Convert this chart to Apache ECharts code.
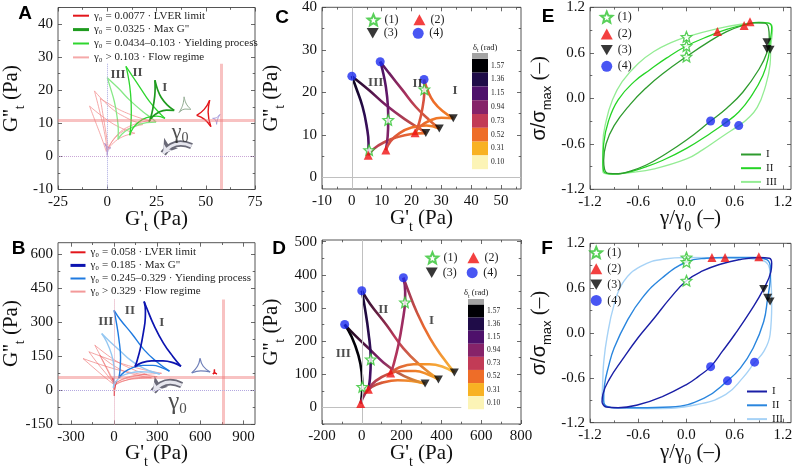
<!DOCTYPE html>
<html><head><meta charset="utf-8">
<script src="https://cdn.jsdelivr.net/npm/echarts@6/dist/echarts.min.js"></script>
<style>html,body{margin:0;padding:0;background:#fff}#c{width:800px;height:467px}</style>
</head><body><div id="c"></div><script>
// ================= DATA =================
// axis ranges [min, max] and major tick labels
const aX=[-25,75], aY=[-10,45], aXt=[-25,0,25,50,75], aYt=[-10,0,10,20,30,40];
const bX=[-390,980], bY=[-150,650], bXt=[-300,0,300,600,900], bYt=[-150,0,150,300,450,600];
const cX=[-10,56.7], cY=[-2.75,40], cXt=[-10,0,10,20,30,40,50], cYt=[0,10,20,30,40];
const dX=[-200,800], dY=[-50,505], dXt=[-200,0,200,400,600,800], dYt=[0,100,200,300,400,500];
const eX=[-1.2,1.3], eY=[-1.2,1.2], eXt=[-1.2,-0.6,0,0.6,1.2], eYt=[-1.2,-0.6,0,0.6,1.2];
const fX=[-1.2,1.3], fY=[-1.2,1.2], fXt=[-1.2,-0.6,0,0.6,1.2], fYt=[-1.2,-0.6,0,0.6,1.2];

// colour-bar tick labels (delta_t, rad)
const deltaTicks=[1.57,1.36,1.15,0.94,0.73,0.52,0.31,0.10];

// ---- Panels A / C : transient moduli loops (Pa), edges (1)->(2), (2)->(3), (3)->(4)
const cI_left   =[[24.2,23],[24.3,20.7],[24.1,18.2],[23.1,14.3],[22.0,11.6],[21.2,10.5]];
const cI_bottom =[[21.2,10.5],[23,12.0],[26,13.3],[30,14.0],[34,13.9]];
const cI_right  =[[34,13.9],[30.4,15.6],[27.4,17.8],[25.5,20.3],[24.2,23]];
const cII_left  =[[9.5,27.2],[10.3,25.2],[11.4,21.3],[12.1,16.6],[12.2,13.5],[12.0,9.6],[11.4,6.4]];
const cII_bottom=[[11.4,6.4],[13,8.5],[16,10.4],[20,11.7],[25,12.2],[29.3,11.5]];
const cII_right =[[29.3,11.5],[25.9,13.5],[21.4,16.6],[17.0,20.5],[12.5,24.5],[9.5,27.2]];
const cIII_left =[[0,23.8],[1.3,21.3],[3.6,16.6],[5.0,11.9],[5.6,8.0],[5.5,5.2]];
const cIII_bottom=[[5.5,5.2],[7.5,6.8],[11,8.3],[15,9.4],[20,10.2],[24.8,10.4]];
const cIII_right=[[24.8,10.4],[22.6,11.5],[18.1,13.5],[11.4,17.0],[5.8,20.5],[0,23.8]];
const dltCI  =[[0.70,0.62,0.60],[0.60,0.50,0.45],[0.45,0.52,0.65]];
const dltCII =[[1.20,1.05,0.90],[0.70,0.52,0.45],[0.50,0.80,1.20]];
const dltCIII=[[1.52,1.30,1.10],[0.85,0.60,0.50],[0.55,0.95,1.48]];

// ---- Panels B / D
const dI_left   =[[209,391],[218,350],[217,317],[205,259],[184,188],[159,128],[145,104]];
const dI_bottom =[[145,104],[190,121],[260,130],[340,130],[410,122],[465,105.5]];
const dI_right  =[[465,105.5],[410,148],[343,208],[276,288],[229,359],[209,391]];
const dII_left  =[[0,352],[16,298],[33,228],[45,145],[41,87],[33,55]];
const dII_bottom=[[33,55],[70,80],[130,100],[200,110],[270,110],[330,100],[385,84.5]];
const dII_right =[[385,84.5],[292,128],[209,178],[125,248],[41,313],[0,352]];
const dIII_left =[[-86,250],[-51,213],[-17,157],[-1,107],[2.5,62],[-1,30],[-5.5,12]];
const dIII_bottom=[[-5.5,12],[15,40],[50,62],[110,76],[180,82],[250,80],[318,72]];
const dIII_right=[[318,72],[250,85],[180,105],[110,135],[40,175],[-30,215],[-86,250]];
const dltDI  =[[0.98,0.85,0.75],[0.65,0.42,0.25],[0.28,0.55,0.95]];
const dltDII =[[1.45,1.30,1.15],[0.85,0.55,0.33],[0.33,0.75,1.45]];
const dltDIII=[[1.57,1.55,1.50],[0.95,0.55,0.30],[0.35,0.95,1.55]];

// ---- extra loops in A
const aRedLoop =[[[52,17],[51.2,13.4],[52.6,9]],[[52.6,9],[49.4,11.2],[45.4,12.4]],[[45.4,12.4],[49.2,14.2],[52,17]]];
const aGrayLoop=[[[39,18],[38.3,15.5],[36.5,13.3]],[[36.5,13.3],[39.4,14.3],[42.5,14.2]],[[42.5,14.2],[40.2,15.8],[39,18]]];
const aLavLoop =[[[53.5,11.5],[55.4,11.7],[57.2,12.7]],[[57.2,12.7],[56.0,11.2],[55.5,9.7]],[[55.5,9.7],[55.0,11.0],[53.5,11.5]]];
const aTinyLoop=[[[-1.3,4],[-0.3,2.3],[0,0.3]],[[0,0.3],[0.4,1.8],[1.8,2.6]],[[1.8,2.6],[0.4,2.7],[-1.3,4]]];
const aFlow1=[[[-6.5,19.8],[-4,14],[-1.5,7.5],[0,2]],[[0,2],[4,5.6],[10,8.2],[18,9.6]],[[18,9.6],[10,11.6],[2,14.6],[-6.5,19.8]]];
const aFlow2=[[[-9,15.2],[-6,10.5],[-2.5,5],[-0.5,1.5]],[[-0.5,1.5],[3,4],[8,6],[14,7]],[[14,7],[7,8.6],[0,11],[-9,15.2]]];
const aFlow3=[[[-3.5,17.5],[-2,12],[-0.5,6.5],[0.5,2.5]],[[0.5,2.5],[5,6.5],[12,9.3],[21,10.8]],[[21,10.8],[12,12.6],[4,14.8],[-3.5,17.5]]];
// ---- extra loops in B
const bRedLoop  =[[[698,92],[699,80],[715,72]],[[715,72],[700,76],[687,72]],[[687,72],[696,79],[698,92]]];
const bSlateLoop=[[[598,141],[580,106],[540,77]],[[540,77],[603,86],[668,81]],[[668,81],[620,106],[598,141]]];
const bRed0Loop =[[[-8,55],[-1,18],[2,-25]],[[2,-25],[6,10],[18,40]],[[18,40],[3,35],[-8,55]]];
const bFlow1=[[[-216,140],[-140,98],[-60,55],[0,25]],[[0,25],[60,40],[160,55],[300,60]],[[300,60],[150,75],[0,95],[-216,140]]];
const bFlow2=[[[-134,199],[-85,140],[-35,80],[5,30]],[[5,30],[60,50],[140,65],[230,70]],[[230,70],[120,95],[0,135],[-134,199]]];
const bFlow3=[[[-100,155],[-60,105],[-25,60],[0,20]],[[0,20],[70,42],[170,52],[260,55]],[[260,55],[140,70],[20,100],[-100,155]]];
const bFlow4=[[[-175,170],[-110,115],[-45,65],[0,28]],[[0,28],[80,52],[200,68],[330,75]],[[330,75],[180,95],[20,125],[-175,170]]];

// ---- markers (1) star, (2) up triangle, (3) down triangle, (4) circle
const cMk=[[[5.8,6.4],[12.2,13.5],[24.3,20.7]],[[5.5,5.2],[11.4,6.4],[21.2,10.5]],[[24.8,10.4],[29.3,11.5],[34,13.9]],[[0,23.8],[9.5,27.2],[24.2,23.0]]];
const dMk=[[[2.5,62],[45,145],[217,317]],[[-5.5,12],[33,55],[145,104]],[[318,72],[385,84.5],[465,105.5]],[[-86,250],[0,352],[209,391]]];
const eMk=[[[0,0.81],[0,0.69],[0,0.55]],[[0.385,0.88],[0.717,0.96],[0.79,1.01]],[[1.0,0.74],[1.0,0.65],[1.04,0.64]],[[0.30,-0.30],[0.49,-0.32],[0.65,-0.36]]];
const fMk=[[[0,1.01],[0,0.95],[0,0.70]],[[0.317,1.01],[0.48,1.01],[0.90,1.02]],[[0.96,0.59],[1.01,0.47],[1.04,0.42]],[[0.30,-0.45],[0.51,-0.64],[0.847,-0.39]]];

// ---- Lissajous loops E (stress vs strain)
const eI  =[[-1.03,-0.82],[-1.0,-0.6],[-0.9,-0.36],[-0.7,-0.08],[-0.5,0.14],[-0.3,0.32],[0,0.55],[0.3,0.76],[0.5,0.88],[0.7,0.96],[0.85,0.995],[0.97,0.99],[1.02,0.93],[1.03,0.8],[1.0,0.6],[0.9,0.38],[0.7,0.08],[0.5,-0.13],[0.3,-0.3],[0,-0.55],[-0.3,-0.76],[-0.5,-0.88],[-0.7,-0.96],[-0.85,-0.995],[-0.97,-0.99],[-1.02,-0.93],[-1.03,-0.82]];
const eII =[[-1.04,-0.84],[-1.03,-0.6],[-0.97,-0.3],[-0.85,-0.02],[-0.65,0.22],[-0.45,0.38],[-0.25,0.53],[0,0.69],[0.3,0.83],[0.5,0.91],[0.72,0.97],[0.9,1.0],[1.02,0.99],[1.06,0.93],[1.04,0.75],[1.02,0.55],[0.95,0.3],[0.8,0.02],[0.65,-0.18],[0.49,-0.32],[0.3,-0.46],[0,-0.66],[-0.3,-0.82],[-0.55,-0.92],[-0.75,-0.98],[-0.92,-1.0],[-1.03,-0.96],[-1.04,-0.84]];
const eIII=[[-1.04,-0.85],[-1.04,-0.6],[-1.0,-0.3],[-0.92,-0.02],[-0.8,0.22],[-0.6,0.46],[-0.4,0.62],[-0.2,0.73],[0,0.81],[0.385,0.92],[0.7,0.98],[0.95,1.0],[1.05,0.98],[1.07,0.9],[1.05,0.7],[1.04,0.45],[0.98,0.15],[0.88,-0.12],[0.75,-0.28],[0.65,-0.36],[0.45,-0.5],[0.2,-0.68],[0,-0.8],[-0.4,-0.93],[-0.7,-0.98],[-0.95,-1.0],[-1.04,-0.97],[-1.04,-0.85]];
// ---- Lissajous loops F
const fI  =[[-1.05,-0.93],[-1.04,-0.82],[-0.96,-0.62],[-0.8,-0.36],[-0.6,-0.06],[-0.4,0.2],[-0.2,0.47],[0,0.70],[0.2,0.83],[0.42,0.92],[0.65,0.98],[0.9,1.01],[1.03,1.0],[1.06,0.93],[1.05,0.82],[0.96,0.59],[0.8,0.3],[0.6,-0.02],[0.45,-0.24],[0.3,-0.45],[0.15,-0.58],[0,-0.69],[-0.3,-0.85],[-0.6,-0.96],[-0.85,-1.0],[-1.0,-0.99],[-1.05,-0.93]];
const fII =[[-1.03,-0.9],[-1.02,-0.7],[-0.97,-0.45],[-0.9,-0.2],[-0.74,0.16],[-0.55,0.47],[-0.3,0.74],[0,0.95],[0.25,1.0],[0.48,1.01],[0.83,1.01],[1.0,0.98],[1.045,0.85],[1.04,0.69],[1.01,0.47],[0.96,0.15],[0.83,-0.2],[0.67,-0.47],[0.51,-0.64],[0.22,-0.87],[-0.2,-0.99],[-0.6,-1.0],[-0.9,-1.0],[-1.01,-0.97],[-1.03,-0.9]];
const fIII=[[-1.05,-0.88],[-1.04,-0.6],[-1.03,-0.4],[-0.99,-0.07],[-0.9,0.38],[-0.78,0.69],[-0.57,0.89],[-0.28,0.99],[0,1.01],[0.62,1.0],[0.95,0.97],[1.04,0.82],[1.06,0.38],[1.04,-0.02],[0.96,-0.25],[0.85,-0.39],[0.70,-0.60],[0.49,-0.82],[0.12,-0.96],[-0.41,-1.01],[-0.9,-1.0],[-1.03,-0.95],[-1.05,-0.88]];

// ---- reference lines
const aPlateau=[57.7,10.8], aPlateauTop=28;
const bPlateau=[760,57],   bPlateauTop=400;

// ---- annotations
const romanNames=['III','II','I'];
const aRoman=[[5.5,24.6],[15.4,25.3],[29.2,20.9]];
const bRoman=[[-58,302],[110,353],[331,297]];
const cRoman=[[8,22.3],[22,22.1],[34.6,20.5]];
const dRoman=[[-93,163],[108,294],[351,263]];
const aGamma=[37,7.2], bGamma=[441,-55];
const aArrow=[[42.8,3.1],[28.4,0.9]], bArrow=[[470,23],[272,-5]];

// legend texts
const A_LEG=['γ₀ = 0.0077 · LVER limit','γ₀ = 0.0325 · Max G"','γ₀ = 0.0434–0.103 · Yielding process','γ₀ > 0.103 · Flow regime'];
const B_LEG=['γ₀ = 0.058 · LVER limit','γ₀ = 0.185 · Max G"','γ₀ = 0.245–0.329 · Yiending process','γ₀ > 0.329 · Flow regime'];
const MK_NAMES=['(1)','(2)','(3)','(4)'];

// ================= STYLE / BUILD =================
const SERIF='"Liberation Serif","DejaVu Serif",serif';
const SANS='"Liberation Sans","DejaVu Sans",sans-serif';
const DELTA_COLORS=['#000004','#1f0c48','#4e116b','#862369','#c23b56','#ee6d28','#f8b223','#fcf4b6'];
function hex2rgb(h){h=h.replace('#','');return [0,2,4].map(i=>parseInt(h.slice(i,i+2),16));}
function colorAt(d){
  const t=deltaTicks,c=DELTA_COLORS;
  if(d>=t[0])return c[0];
  if(d<=t[t.length-1])return c[c.length-1];
  for(let i=0;i<t.length-1;i++){
    if(d<=t[i]&&d>=t[i+1]){
      const f=(t[i]-d)/(t[i]-t[i+1]);const a=hex2rgb(c[i]),b=hex2rgb(c[i+1]);
      return 'rgb('+a.map((v,k)=>Math.round(v+(b[k]-v)*f)).join(',')+')';
    }
  }
  return c[0];
}
const XI=p=>4*p;
const series=[];
function addEdges(p,edges,name,color,width,z){
  edges.forEach(e=>series.push({type:'line',name:name,xAxisIndex:XI(p),yAxisIndex:XI(p),data:e,symbol:'none',
    smooth:0.45,silent:true,z:z||3,lineStyle:{color:color,width:width},itemStyle:{color:color}}));
}
function addGrad(p,edges,dl,width){
  edges.forEach((e,i)=>{
    const s=e[0],t=e[e.length-1];
    const x0=s[0]<=t[0]?0:1,y0=s[1]>=t[1]?0:1;
    const stops=dl[i].map((v,k)=>({offset:k/(dl[i].length-1),color:colorAt(v)}));
    series.push({type:'line',xAxisIndex:XI(p),yAxisIndex:XI(p),data:e,symbol:'none',smooth:0.45,silent:true,z:3,
      lineStyle:{width:width,color:new echarts.graphic.LinearGradient(x0,y0,1-x0,1-y0,stops)}});
  });
}
const STAR='path://M12,1.5 L14.9,8.6 L22.5,9.2 L16.7,14.1 L18.5,21.6 L12,17.6 L5.5,21.6 L7.3,14.1 L1.5,9.2 L9.1,8.6 Z';
const DOWN='path://M0,0 L10,0 L5,8.66 Z';
const MARK={
 '(1)':{symbol:STAR,symbolSize:10.5,itemStyle:{color:'#ffffff',borderColor:'#2fc42f',borderWidth:1.3}},
 '(2)':{symbol:'triangle',symbolSize:9,itemStyle:{color:'#f01010'}},
 '(3)':{symbol:DOWN,symbolSize:[9,8],itemStyle:{color:'#050505'}},
 '(4)':{symbol:'circle',symbolSize:9,itemStyle:{color:'#1b2cf0'}}
};
function addMarkers(p,sets){
  MK_NAMES.forEach((nm,i)=>series.push(Object.assign({type:'scatter',name:nm,xAxisIndex:XI(p),yAxisIndex:XI(p),data:sets[i],z:6,silent:true},MARK[nm])));
}
function addLabels(p,pts,names,lab){
  series.push({type:'scatter',xAxisIndex:XI(p),yAxisIndex:XI(p),symbol:'circle',symbolSize:1,silent:true,z:7,
    itemStyle:{color:'rgba(0,0,0,0)'},data:pts.map((q,i)=>({value:q,name:names[i]})),
    label:Object.assign({show:true,position:'inside',formatter:'{b}'},lab)});
}
function addRef(p,lines){
  series.push({type:'line',xAxisIndex:XI(p),yAxisIndex:XI(p),data:[],silent:true,z:1,
    markLine:{silent:true,symbol:'none',animation:false,label:{show:false},data:lines}});
}
function addArrow(p,coords){
  [['#6a6a78',6.5,13],['#e6e6ee',3,8]].forEach(st=>series.push({type:'lines',coordinateSystem:'cartesian2d',xAxisIndex:XI(p),yAxisIndex:XI(p),
    silent:true,z:4,symbol:['none','arrow'],symbolSize:st[2],data:[{coords:coords}],
    lineStyle:{color:st[0],width:st[1],curveness:-0.4,opacity:1}}));
}
const PINK='rgba(240,120,120,0.45)';
const dummyC=series.length; series.push({type:'scatter',xAxisIndex:XI(2),yAxisIndex:XI(2),data:[]});
const dummyD=series.length; series.push({type:'scatter',xAxisIndex:XI(3),yAxisIndex:XI(3),data:[]});

// ---- A
addRef(0,[
  {yAxis:aPlateau[1],lineStyle:{color:PINK,width:3,type:'solid'}},
  [{coord:[aPlateau[0],aPlateauTop],lineStyle:{color:PINK,width:3,type:'solid'}},{coord:[aPlateau[0],aY[0]]}],
  {yAxis:0,lineStyle:{color:'#c9a6d6',width:1,type:'dotted'}},
  [{coord:[0,aPlateauTop],lineStyle:{color:'#a8a8e0',width:1,type:'dotted'}},{coord:[0,aY[0]]}]
]);
[aFlow1,aFlow2,aFlow3].forEach(f=>addEdges(0,f,A_LEG[3],'rgba(242,140,140,0.75)',1));
addEdges(0,aTinyLoop,'a-tiny','#b48cc8',1);
addEdges(0,aGrayLoop,'a-gray','#8fa98f',1);
addEdges(0,aLavLoop,'a-lav','#a79ddc',1);
addEdges(0,aRedLoop,A_LEG[0],'#e3161b',1.4);
addEdges(0,[cIII_left,cIII_bottom,cIII_right],'a-III','#86e886',1.3);
addEdges(0,[cII_left,cII_bottom,cII_right],A_LEG[2],'#2fd62f',1.3);
addEdges(0,[cI_left,cI_bottom,cI_right],A_LEG[1],'#1f9b1f',1.7);
addArrow(0,aArrow);
addLabels(0,aRoman,romanNames,{fontFamily:SERIF,fontSize:13,fontWeight:'bold',color:'#222'});
addLabels(0,[aGamma],['g'],{formatter:'{g|γ}{s|0}',rich:{g:{fontFamily:SERIF,fontSize:22,color:'#222'},s:{fontFamily:SERIF,fontSize:14,color:'#222',padding:[12,0,0,0]}}});

// ---- B
addRef(1,[
  {yAxis:bPlateau[1],lineStyle:{color:PINK,width:3,type:'solid'}},
  [{coord:[bPlateau[0],bPlateauTop],lineStyle:{color:PINK,width:3,type:'solid'}},{coord:[bPlateau[0],bY[0]]}],
  {yAxis:0,lineStyle:{color:'#b4a8e0',width:1,type:'dotted'}},
  [{coord:[0,bPlateauTop],lineStyle:{color:'#e0a0b4',width:1,type:'dotted'}},{coord:[0,bY[0]]}]
]);
[bFlow1,bFlow2,bFlow3,bFlow4].forEach(f=>addEdges(1,f,B_LEG[3],'rgba(238,110,110,0.7)',0.9));
addEdges(1,bRed0Loop,'b-red0','#e3161b',1);
addEdges(1,bSlateLoop,'b-slate','#6f7fb8',1.2);
addEdges(1,bRedLoop,B_LEG[0],'#e3161b',1.3);
addEdges(1,[dIII_left,dIII_bottom,dIII_right],'b-III','#94c7f2',1.4);
addEdges(1,[dII_left,dII_bottom,dII_right],B_LEG[2],'#1f7ae0',1.4);
addEdges(1,[dI_left,dI_bottom,dI_right],B_LEG[1],'#0c14b0',1.7);
addArrow(1,bArrow);
addLabels(1,bRoman,romanNames,{fontFamily:SERIF,fontSize:13,fontWeight:'bold',color:'#222'});
addLabels(1,[bGamma],['g'],{formatter:'{g|γ}{s|0}',rich:{g:{fontFamily:SERIF,fontSize:25,color:'#222'},s:{fontFamily:SERIF,fontSize:15,color:'#222',padding:[13,0,0,0]}}});

// ---- C
addRef(2,[
  [{coord:[0,cY[0]],lineStyle:{color:'#c0c0c0',width:1,type:'solid'}},{coord:[0,cY[1]]}],
  {yAxis:0,lineStyle:{color:'#c0c0c0',width:1,type:'solid'}}
]);
addGrad(2,[cIII_left,cIII_bottom,cIII_right],dltCIII,2.6);
addGrad(2,[cII_left,cII_bottom,cII_right],dltCII,2.6);
addGrad(2,[cI_left,cI_bottom,cI_right],dltCI,2.6);
addMarkers(2,cMk);
addLabels(2,cRoman,romanNames,{fontFamily:SERIF,fontSize:13,fontWeight:'bold',color:'#222'});

// ---- D
addRef(3,[
  [{coord:[0,dY[0]],lineStyle:{color:'#c0c0c0',width:1,type:'solid'}},{coord:[0,dY[1]]}],
  [{coord:[dX[0],0],lineStyle:{color:'#c0c0c0',width:1,type:'solid'}},{coord:[500,0]}]
]);
addGrad(3,[dIII_left,dIII_bottom,dIII_right],dltDIII,2.6);
addGrad(3,[dII_left,dII_bottom,dII_right],dltDII,2.6);
addGrad(3,[dI_left,dI_bottom,dI_right],dltDI,2.6);
addMarkers(3,dMk);
addLabels(3,dRoman,romanNames,{fontFamily:SERIF,fontSize:13,fontWeight:'bold',color:'#222'});

// ---- E
addEdges(4,[eIII],'III','#94ec94',1.3);
addEdges(4,[eII],'II','#25d425',1.3);
addEdges(4,[eI],'I','#2e9b2e',1.3);
addMarkers(4,eMk);
// ---- F
addEdges(5,[fIII],'III ','#a6d2f6',1.4);
addEdges(5,[fII],'II ','#2a86de',1.4);
addEdges(5,[fI],'I ','#1a1fa6',1.4);
addMarkers(5,fMk);

// ---- axes
const RICH={
  a:{fontFamily:SERIF,fontSize:21,color:'#111'},
  b:{fontFamily:SERIF,fontSize:14,color:'#111',padding:[17,0,0,0]},
  c:{fontFamily:SANS,fontSize:20,color:'#111'},
  d:{fontFamily:SANS,fontSize:13,color:'#111',padding:[17,0,0,0]}
};
const GP="{a|G'}{b|t}{a| (Pa)}", GPP="{a|G''}{b|t}{a| (Pa)}";
const GAM="{a|γ/γ}{b|0}{a| (–)}", SIG="{c|σ/σ}{d|max}{a| (–)}";
const grids=[
  {left:58,top:7.5,width:197,height:182},
  {left:58,top:242.7,width:197,height:181.7},
  {left:322,top:7.3,width:199,height:181.7},
  {left:322,top:240,width:199,height:184},
  {left:590,top:7.3,width:201,height:182},
  {left:590,top:243.3,width:201,height:179.4}
];
const fmt1=v=>v.toFixed(1);
const axisCfg=[
  {x:aX,y:aY,xt:aXt,yt:aYt,xn:GP,yn:GPP,gx:14,gy:31},
  {x:bX,y:bY,xt:bXt,yt:bYt,xn:GP,yn:GPP,gx:14,gy:31},
  {x:cX,y:cY,xt:cXt,yt:cYt,xn:GP,yn:GPP,gx:14,gy:35},
  {x:dX,y:dY,xt:dXt,yt:dYt,xn:GP,yn:GPP,gx:14,gy:35},
  {x:eX,y:eY,xt:eXt,yt:eYt,xn:GAM,yn:SIG,gx:14,gy:36,fmt:fmt1},
  {x:fX,y:fY,xt:fXt,yt:fYt,xn:GAM,yn:SIG,gx:14,gy:36,fmt:fmt1}
];
function minors(t,r){const h=(t[1]-t[0])/2,out=[];for(let v=t[0]-h;v<=r[1]+1e-9;v+=2*h){if(v>=r[0]-1e-9)out.push(+v.toFixed(6));}return out;}
function mkAxis(p,r,ticks,pos,labels,len,name,gap,fmt){
  const ax={type:'value',gridIndex:p,position:pos,min:r[0],max:r[1],offset:0,
    axisLine:{show:false,onZero:false},splitLine:{show:false},minorTick:{show:false},
    axisTick:{show:true,inside:true,length:len,customValues:ticks,lineStyle:{color:'#444',width:0.8}},
    axisLabel:{show:labels,customValues:ticks,fontFamily:SERIF,fontSize:15,color:'#111',margin:5}};
  if(fmt)ax.axisLabel.formatter=fmt;
  if(name){ax.name=name;ax.nameLocation='middle';ax.nameGap=gap;ax.nameMoveOverlap=false;ax.nameTextStyle={rich:RICH};}
  return ax;
}
const xAxis=[],yAxis=[];
axisCfg.forEach((c,p)=>{
  const mx=minors(c.xt,c.x),my=minors(c.yt,c.y);
  xAxis.push(mkAxis(p,c.x,c.xt,'bottom',true,4,c.xn,c.gx,c.fmt));
  xAxis.push(mkAxis(p,c.x,mx,'bottom',false,2.3));
  xAxis.push(mkAxis(p,c.x,c.xt,'top',false,4));
  xAxis.push(mkAxis(p,c.x,mx,'top',false,2.3));
  yAxis.push(mkAxis(p,c.y,c.yt,'left',true,4,c.yn,c.gy,c.fmt));
  yAxis.push(mkAxis(p,c.y,my,'left',false,2.3));
  yAxis.push(mkAxis(p,c.y,c.yt,'right',false,4));
  yAxis.push(mkAxis(p,c.y,my,'right',false,2.3));
});

// ---- colour bars (one band per tick label, plus grey over-range cap)
function cbPieces(){
  return deltaTicks.slice().reverse().map(t=>({min:t-0.105,max:t+0.105,color:colorAt(t),label:t.toFixed(2)}));
}
function cb(idx,left,top,h){return {type:'piecewise',seriesIndex:idx,left:left,top:top,orient:'vertical',itemWidth:16,itemHeight:h,itemGap:0,
  textGap:3,align:'left',padding:0,showLabel:true,itemSymbol:'rect',selectedMode:false,hoverLink:false,pieces:cbPieces(),
  textStyle:{fontFamily:SERIF,fontSize:7.5,color:'#222'}};}
function cbCap(idx,left,top,h){return {type:'piecewise',seriesIndex:idx,left:left,top:top,orient:'vertical',itemWidth:16,itemHeight:h,itemGap:0,
  padding:0,showLabel:false,itemSymbol:'rect',selectedMode:false,hoverLink:false,pieces:[{min:1.68,max:1.8,color:'#a3a3a3'}]};}

// ---- legends
const legTxt={fontFamily:SERIF,fontSize:11,lineHeight:11,color:'#222'};
function lineLeg(names,thick){return names.map((n,i)=>i===1?{name:n,lineStyle:{width:thick}}:{name:n});}
const mkTxt={fontFamily:SERIF,fontSize:12,lineHeight:12,color:'#222'};
const noSym={opacity:0};
const legend=[
  {left:71.5,top:10.2,orient:'vertical',itemWidth:16,itemHeight:10,itemGap:2.9,padding:0,selectedMode:false,itemStyle:noSym,data:lineLeg(A_LEG,3),textStyle:legTxt},
  {left:69,top:246.8,orient:'vertical',itemWidth:15,itemHeight:10,itemGap:2.1,padding:0,selectedMode:false,itemStyle:noSym,data:lineLeg(B_LEG,3),textStyle:legTxt},
  {left:366.7,top:13.3,orient:'horizontal',itemWidth:12,itemHeight:11,itemGap:15,padding:0,selectedMode:false,data:['(1)','(2)'],textStyle:mkTxt},
  {left:366.7,top:27.3,orient:'horizontal',itemWidth:12,itemHeight:11,itemGap:15,padding:0,selectedMode:false,data:['(3)','(4)'],textStyle:mkTxt},
  {left:425.7,top:251.3,orient:'horizontal',itemWidth:12,itemHeight:11,itemGap:10,padding:0,selectedMode:false,data:['(1)','(2)'],textStyle:mkTxt},
  {left:425.7,top:266.7,orient:'horizontal',itemWidth:12,itemHeight:11,itemGap:10,padding:0,selectedMode:false,data:['(3)','(4)'],textStyle:mkTxt},
  {left:600,top:10.7,orient:'vertical',itemWidth:12,itemHeight:11,itemGap:4.2,padding:0,selectedMode:false,data:MK_NAMES,textStyle:mkTxt},
  {left:589.5,top:246,orient:'vertical',itemWidth:12,itemHeight:11,itemGap:3.8,padding:0,selectedMode:false,data:MK_NAMES,textStyle:mkTxt},
  {left:740,top:149,orient:'vertical',itemWidth:20,itemHeight:10,itemGap:2.7,padding:0,selectedMode:false,itemStyle:noSym,data:['I','II','III'],textStyle:{fontFamily:SERIF,fontSize:11,lineHeight:10,color:'#222'}},
  {left:746,top:386,orient:'vertical',itemWidth:20,itemHeight:10,itemGap:2.8,padding:0,selectedMode:false,itemStyle:noSym,data:['I ','II ','III '],textStyle:{fontFamily:SERIF,fontSize:11,lineHeight:10,color:'#222'}}
];

// ---- graphic texts
const letters=[['A',25,14],['B',18.5,249],['C',282,18],['D',279,249],['E',548,17],['F',547,249]];
const graphic=letters.map(l=>({type:'text',x:l[1],y:l[2],silent:true,style:{text:l[0],fontFamily:SANS,fontWeight:'bold',fontSize:19,fill:'#000',textAlign:'center',textVerticalAlign:'middle'}}));
[[473,47.5],[464,293]].forEach(q=>graphic.push({type:'text',x:q[0],y:q[1],silent:true,style:{
  text:'{a|δ}{b|t}{a| (rad)}',textVerticalAlign:'middle',rich:{a:{fontFamily:SERIF,fontSize:8.5,fill:'#222'},b:{fontFamily:SERIF,fontSize:6,fill:'#222',padding:[6,0,0,0]}}}}));

const option={animation:false,backgroundColor:'#fff',
  grid:grids.map(g=>Object.assign({show:true,borderColor:'#555',borderWidth:1,backgroundColor:'rgba(0,0,0,0)',containLabel:false,outerBoundsMode:'none'},g)),
  xAxis:xAxis,yAxis:yAxis,series:series,legend:legend,
  visualMap:[cb(dummyC,472,58.8,13.8),cbCap(dummyC,472,53,5.8),cb(dummyD,468,304.45,13.1),cbCap(dummyD,468,299,5.45)],
  graphic:graphic};
const chart=echarts.init(document.getElementById('c'),null,{renderer:'canvas'});
chart.setOption(option);
</script></body></html>
